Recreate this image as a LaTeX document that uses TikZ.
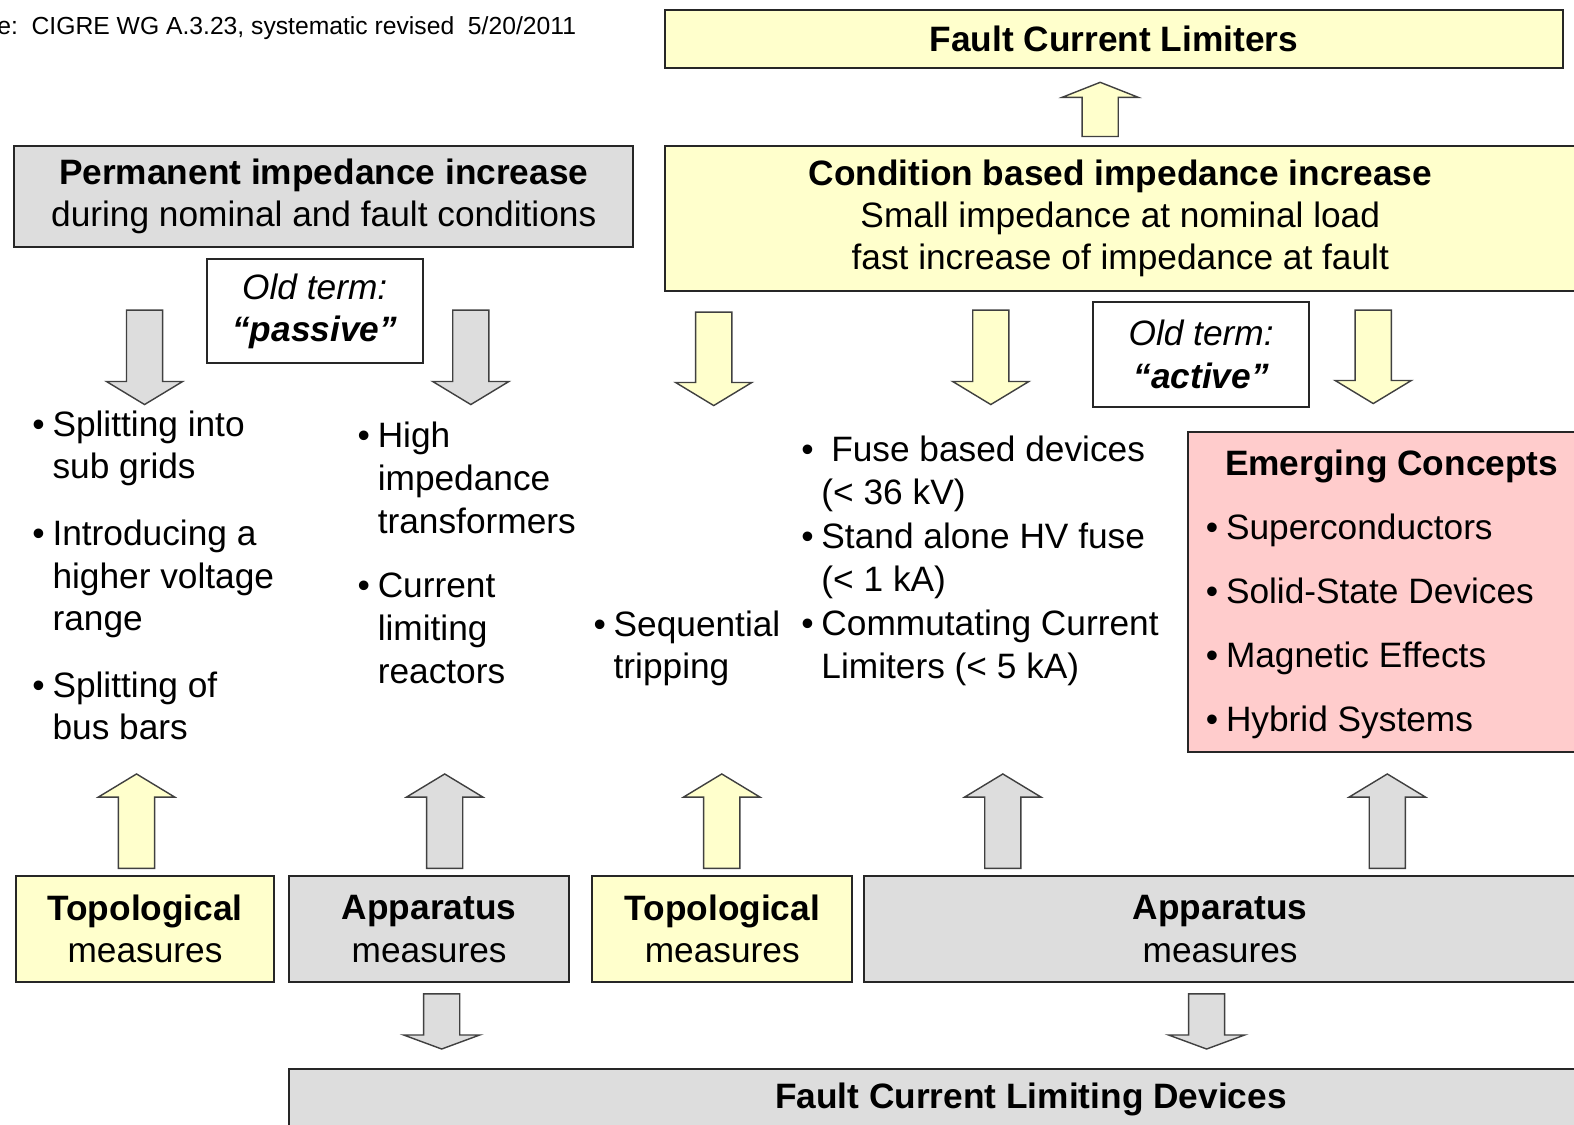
\documentclass[tikz,border=0pt]{standalone}
\usepackage{fontspec}
\setmainfont{Liberation Sans}
\definecolor{fclyellow}{HTML}{FFFFCC}
\definecolor{fclgray}{HTML}{DDDDDD}
\definecolor{fclpink}{HTML}{FFCCCC}
\newdimen\pxu \pxu=0.02cm
\newcommand{\itembul}{\makebox[0.4cm][l]{\textbullet}}
\newcommand{\itemgap}{\hspace*{0.4cm}}
% block arrow: x, base y, head y, tip y, fill
\newcommand{\blkarr}[5]{%
  \draw[blockarrow, fill=#5] ({#1-18},#2) -- ({#1-18},#3) -- ({#1-38},#3) -- (#1,#4)
    -- ({#1+38},#3) -- ({#1+18},#3) -- ({#1+18},#2) -- cycle;}

\begin{document}
\begin{tikzpicture}[
    % GLOBAL CFG
    x=0.02cm, y=-0.02cm,
    font=\fontsize{20}{24}\selectfont,
    % Styles
    box/.style={% plain framed box
        rectangle,
        draw=black!85,
        line width=1.1pt,
        inner sep=0pt,
        align=center,
        },
    ybox/.style={box, fill=fclyellow},
    gbox/.style={box, fill=fclgray},
    pbox/.style={box, fill=fclpink},
    wbox/.style={box, fill=white},
    txt/.style={% bullet lists
        inner sep=0pt,
        align=left,
        anchor=north west,
        },
    blockarrow/.style={% fat arrows
        draw=black!75,
        line width=0.8pt,
        line join=miter,
        },
    ]

    \useasboundingbox (0,0) rectangle (1568,1120);

    % Source line
    \node[anchor=west, inner sep=0pt, font=\fontsize{14}{16}\selectfont] (src) at (-3,28)
        {e:\ \ CIGRE WG A.3.23, systematic revised\ \ 5/20/2011};

    % Top boxes
    \node[ybox, minimum width=895\pxu, minimum height=58\pxu] (fcl) at (1109.5,39)
        {\textbf{Fault Current Limiters}};
    \node[gbox, minimum width=617\pxu, minimum height=101\pxu] (perm) at (322.5,195.5)
        {\textbf{Permanent impedance increase}\\during nominal and fault conditions};
    \node[ybox, minimum width=908\pxu, minimum height=145\pxu] (cond) at (1116,217.5)
        {\textbf{Condition based impedance increase}\\Small impedance at nominal load\\fast increase of impedance at fault};

    % Old terms
    \node[wbox, minimum width=215\pxu, minimum height=104\pxu] (oldpas) at (313.5,310)
        {\textit{Old term:}\\\textbf{\textit{“passive”}}};
    \node[wbox, minimum width=215\pxu, minimum height=104\pxu] (oldact) at (1196.5,353)
        {\textit{Old term:}\\\textbf{\textit{“active”}}};

    % Arrows top
    \blkarr{1096}{136}{97}{82}{fclyellow}
    \blkarr{144}{309}{380}{403}{fclgray}
    \blkarr{469}{309}{380}{403}{fclgray}
    \blkarr{711}{311}{381}{404}{fclyellow}
    \blkarr{987}{309}{380}{403}{fclyellow}
    \blkarr{1368}{309}{379}{402}{fclyellow}

    % Lists
    \node[txt] (colA) at (32,409) {\itembul Splitting into\\\itemgap sub grids\\[14pt]
        \itembul Introducing a\\\itemgap higher voltage\\\itemgap range\\[14pt]
        \itembul Splitting of\\\itemgap bus bars};
    \node[txt, font=\fontsize{20}{24.4}\selectfont] (colB) at (356,420)
        {\itembul High\\\itemgap impedance\\\itemgap transformers\\[12pt]
        \itembul Current\\\itemgap limiting\\\itemgap reactors};
    \node[txt] (colC) at (591,608) {\itembul Sequential\\\itemgap tripping};
    \node[txt, font=\fontsize{20}{24.6}\selectfont] (colD) at (798,434)
        {\itembul\ Fuse based devices\\\itemgap (< 36 kV)\\
        \itembul Stand alone HV fuse\\\itemgap (< 1 kA)\\
        \itembul Commutating Current\\\itemgap Limiters (< 5 kA)};

    % Emerging concepts
    \node[pbox, minimum width=407\pxu, minimum height=319\pxu] (emerg) at (1386.5,589.5) {};
    \node[txt] (emtext) at (1201,448) {\hspace*{0.38cm}\textbf{Emerging Concepts}\\[12.3pt]
        \itembul Superconductors\\[12.3pt]
        \itembul Solid-State Devices\\[12.3pt]
        \itembul Magnetic Effects\\[12.3pt]
        \itembul Hybrid Systems};

    % Arrows bottom
    \blkarr{136}{865}{794}{771}{fclyellow}
    \blkarr{443}{865}{794}{771}{fclgray}
    \blkarr{719}{865}{794}{771}{fclyellow}
    \blkarr{999}{865}{794}{771}{fclgray}
    \blkarr{1382}{865}{794}{771}{fclgray}

    % Measures
    \node[ybox, minimum width=257\pxu, minimum height=105\pxu] (topo1) at (144.5,925.5)
        {\textbf{Topological}\\measures};
    \node[gbox, minimum width=279\pxu, minimum height=105\pxu] (app1) at (427.5,925.5)
        {\textbf{Apparatus}\\measures};
    \node[ybox, minimum width=259\pxu, minimum height=105\pxu] (topo2) at (719.5,925.5)
        {\textbf{Topological}\\measures};
    \node[gbox, minimum width=709\pxu, minimum height=105\pxu] (app2) at (1215.5,925.5)
        {\textbf{Apparatus}\\measures};

    \blkarr{440}{990}{1031}{1045}{fclgray}
    \blkarr{1202}{990}{1031}{1045}{fclgray}

    \node[gbox, minimum width=1478\pxu, minimum height=61\pxu] (fcld) at (1027,1095.5)
        {\textbf{Fault Current Limiting Devices}};

\end{tikzpicture}
\end{document}
